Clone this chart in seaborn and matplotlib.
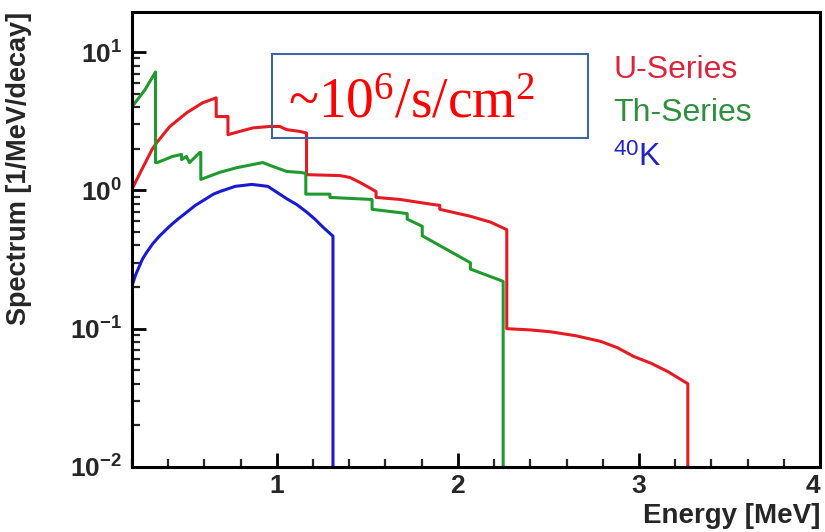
import numpy as np
import pandas as pd
import seaborn as sns
import matplotlib
matplotlib.use('Agg')
import matplotlib.pyplot as plt
from matplotlib.patches import Rectangle
from matplotlib.ticker import MultipleLocator, LogLocator, NullFormatter

# values
u_energy = [0.2, 0.25, 0.31, 0.336, 0.408, 0.502, 0.59, 0.665, 0.665, 0.73, 0.73,
            0.795, 0.867, 0.961, 1.017, 1.033, 1.055, 1.127, 1.164, 1.164,
            1.349, 1.404, 1.46, 1.526, 1.548, 1.548, 1.681, 1.864, 1.9, 1.9,
            2.069, 2.18, 2.27, 2.27, 2.4, 2.512, 2.65, 2.788, 2.88, 2.971,
            3.07, 3.159, 3.27, 3.27]
u_spectrum = [1.02, 1.38, 1.97, 2.21, 2.89, 3.64, 4.30, 4.67, 3.42, 3.42, 2.53,
              2.67, 2.83, 2.90, 2.90, 2.83, 2.75, 2.67, 2.60, 1.30,
              1.28, 1.24, 1.14, 1.02, 0.98, 0.89, 0.86, 0.79, 0.78, 0.73,
              0.65, 0.59, 0.52, 0.100, 0.098, 0.095, 0.089, 0.081, 0.073, 0.063,
              0.056, 0.049, 0.040, 0.001]

th_energy = [0.2, 0.27, 0.33, 0.33, 0.34, 0.424, 0.474, 0.474, 0.50, 0.518,
             0.574, 0.58, 0.58, 0.684, 0.779, 0.922, 0.978, 1.055, 1.127, 1.16, 1.16,
             1.293, 1.293, 1.526, 1.526, 1.681, 1.72, 1.72, 1.803, 1.803,
             2.069, 2.069, 2.25, 2.25]
th_spectrum = [4.02, 5.3, 7.18, 1.59, 1.59, 1.76, 1.82, 1.67, 1.76, 1.59,
               1.88, 1.88, 1.2, 1.35, 1.46, 1.59, 1.49, 1.37, 1.35, 1.33, 0.94,
               0.94, 0.89, 0.86, 0.73, 0.69, 0.68, 0.62, 0.55, 0.47,
               0.30, 0.27, 0.22, 0.001]

k_energy = [0.2, 0.22, 0.258, 0.28, 0.313, 0.35, 0.408, 0.45, 0.502, 0.55, 0.59,
            0.65, 0.684, 0.77, 0.862, 0.95, 1.0, 1.055, 1.11, 1.166, 1.21, 1.255,
            1.31, 1.31]
k_spectrum = [0.204, 0.245, 0.319, 0.355, 0.409, 0.465, 0.551, 0.615, 0.695, 0.78,
              0.84, 0.94, 0.98, 1.07, 1.105, 1.07, 0.97, 0.87, 0.79, 0.695, 0.62,
              0.542, 0.467, 0.001]

series_names = ['U-Series', 'Th-Series', 'K40']
line_colors = ['#e41b23', '#1f9a2e', '#1a1ad0']

sns.set_style('ticks')
plt.rcParams['font.family'] = ['Liberation Sans', 'DejaVu Sans']
plt.rcParams['mathtext.fontset'] = 'custom'
plt.rcParams['mathtext.rm'] = 'Liberation Serif'
plt.rcParams['mathtext.it'] = 'Liberation Serif:italic'
plt.rcParams['mathtext.bf'] = 'Liberation Sans:bold'
plt.rcParams['mathtext.sf'] = 'Liberation Sans'

df = pd.concat([
    pd.DataFrame({'energy': u_energy, 'spectrum': u_spectrum, 'series': 'U-Series'}),
    pd.DataFrame({'energy': th_energy, 'spectrum': th_spectrum, 'series': 'Th-Series'}),
    pd.DataFrame({'energy': k_energy, 'spectrum': k_spectrum, 'series': 'K40'}),
], ignore_index=True)

fig = plt.figure(figsize=(8.25, 5.32), dpi=100)
ax = fig.add_axes([132/825, 1-467/532, (820-132)/825, (467-12)/532])

sns.lineplot(data=df, x='energy', y='spectrum', hue='series', hue_order=series_names,
             palette=line_colors, sort=False, estimator=None, legend=False,
             linewidth=2.2, ax=ax)

ax.set_yscale('log')
ax.set_xlim(0.2, 4)
ax.set_ylim(1e-2, 19.5)

ax.xaxis.set_minor_locator(MultipleLocator(0.2))
ax.set_xticks([1, 2, 3, 4], labels=['1', '2', '3', '4'])
ax.set_yticks([1e-2, 1e-1, 1, 10],
              labels=[r'$\mathbf{10^{-2}}$', r'$\mathbf{10^{-1}}$',
                      r'$\mathbf{10^{0}}$', r'$\mathbf{10^{1}}$'])
ax.yaxis.set_minor_locator(LogLocator(base=10, subs=np.arange(2, 10)))
ax.yaxis.set_minor_formatter(NullFormatter())

ax.tick_params(axis='both', which='major', direction='in', length=10, width=2,
               labelsize=19, color='black')
ax.tick_params(axis='both', which='minor', direction='in', length=6, width=1.6)
ax.tick_params(axis='x', which='major', pad=5)
ax.tick_params(axis='y', which='major', pad=7)
xlabels = ax.get_xticklabels()
for lab in xlabels:
    lab.set_fontweight('bold')
xlabels[-1].set_horizontalalignment('right')

for sp in ax.spines.values():
    sp.set_linewidth(2.2)
    sp.set_color('black')

ax.set_xlabel('Energy [MeV]', fontsize=20, fontweight='bold', loc='right')
ax.xaxis.set_label_coords(1.0, -0.08)
ax.set_ylabel('Spectrum [1/MeV/decay]', fontsize=19.5, fontweight='bold', loc='top')
ax.yaxis.set_label_coords(-0.145, 1.0)

# legend-style labels
fig.text(613/825, 1-70/532, 'U-Series', color='#d9263c', fontsize=23, va='center')
fig.text(613/825, 1-113/532, 'Th-Series', color='#2f8f3f', fontsize=23, va='center')
fig.text(613/825, 1-158/532, r'$^{\mathsf{40}}$K', color='#2323c0', fontsize=23, va='center')

# annotation box
fig.patches.append(Rectangle((272/825, 1-138/532), (588-272)/825, (138-54)/532,
                             transform=fig.transFigure, fill=False,
                             edgecolor='#41659f', linewidth=1.5))
fig.text(288/825, 1-118/532, r'~10$^{6}$/s/cm$^{2}$', color='red', fontsize=40,
         family='Liberation Serif', va='baseline')

fig.savefig('out.png', dpi=100)
